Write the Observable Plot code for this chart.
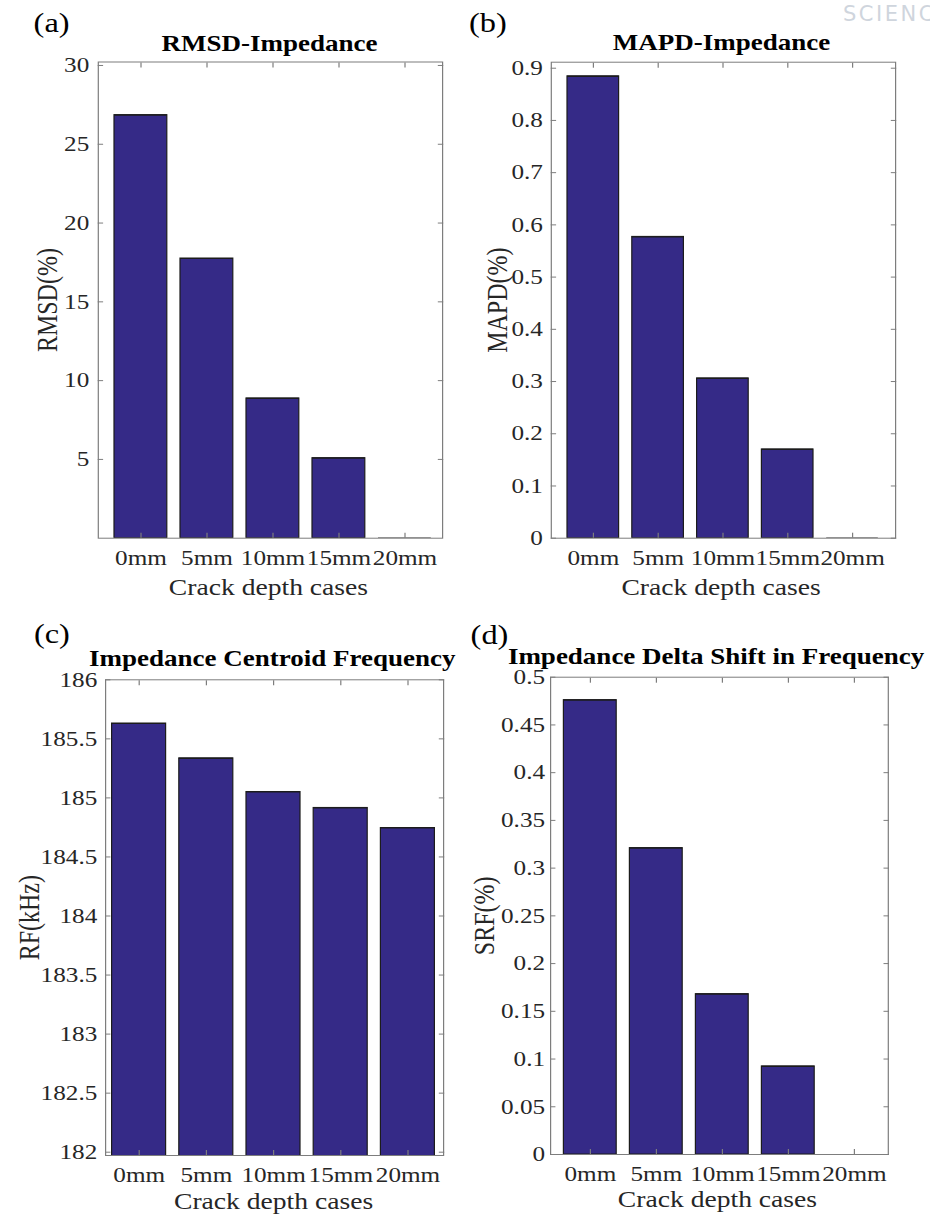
<!DOCTYPE html>
<html>
<head>
<meta charset="utf-8">
<script src="https://cdn.jsdelivr.net/npm/d3@7"></script>
<script src="https://cdn.jsdelivr.net/npm/@observablehq/plot@0.6"></script>
<style>
  body { margin: 0; background: #fff; }
  #fig { position: relative; width: 930px; height: 1218px; overflow: hidden; background: #fff; }
  #fig svg { position: absolute; transform-origin: 0 0; }
  #mark { position: absolute; left: 843px; top: 4px; font: 21px "DejaVu Sans", sans-serif; letter-spacing: 2.5px; color: #cfd5dd; line-height: 1; white-space: nowrap; }
</style>
</head>
<body>
<div id="fig"><span id="mark">SCIENCE</span></div>
<script>
// Crack depth cases and the four damage indices
const cases = ["0mm", "5mm", "10mm", "15mm", "20mm"];
const rmsd = [26.85, 17.75, 8.87, 5.08, 0];
const mapd = [0.8845, 0.577, 0.306, 0.170, 0];
const centroid = [185.63, 185.335, 185.05, 184.915, 184.745];
const srf = [0.476, 0.321, 0.168, 0.0923, 0];

// Tick values for each y axis
const rmsdTicks = [5, 10, 15, 20, 25, 30];
const mapdTicks = [0, 0.1, 0.2, 0.3, 0.4, 0.5, 0.6, 0.7, 0.8, 0.9];
const centroidTicks = [182, 182.5, 183, 183.5, 184, 184.5, 185, 185.5, 186];
const srfTicks = [0, 0.05, 0.1, 0.15, 0.2, 0.25, 0.3, 0.35, 0.4, 0.45, 0.5];

const xLabel = "Crack depth cases";

// Horizontal stretch of each panel
const S = 1.2;

const panels = [
  {tag: "(a)", title: "RMSD-Impedance", ylabel: "RMSD(%)", values: rmsd, ticks: rmsdTicks, domain: [0, 30.22],
   left: 0, top: 0, ml: 97.7, mr: 23, mt: 61.5, mb: 71.3, po: 0.186, align: 0.58, pad: 9,
   titleDx: -1, titleDy: -11.5, tagX: 33, tagY: 31, ylabelDx: -41.7, xlabelDx: -2, xlabelDy: 56.5},
  {tag: "(b)", title: "MAPD-Impedance", ylabel: "MAPD(%)", values: mapd, ticks: mapdTicks, domain: [0, 0.9115],
   left: 465, top: 0, ml: 85.7, mr: 35, mt: 61.7, mb: 71.3, po: 0.245, align: 0.5, pad: 8.4,
   titleDx: -2, titleDy: -12.4, tagX: 468.3, tagY: 31, ylabelDx: -44.7, xlabelDx: -2.4, xlabelDy: 56.3},
  {tag: "(c)", title: "Impedance Centroid Frequency", ylabel: "RF(kHz)", values: centroid, ticks: centroidTicks, domain: [181.972, 186],
   left: 0, top: 609, ml: 105, mr: 22, mt: 70.3, mb: 63, po: 0.105, align: 0.43, pad: 8.3,
   titleDx: -2.3, titleDy: -14.3, tagX: 33.3, tagY: 642, ylabelDx: -67, xlabelDx: -1, xlabelDy: 53},
  {tag: "(d)", title: "Impedance Delta Shift in Frequency", ylabel: "SRF(%)", values: srf, ticks: srfTicks, domain: [0, 0.5],
   left: 465, top: 609, ml: 85, mr: 42.3, mt: 67.7, mb: 64, po: 0.125, align: 0.64, pad: 5.5,
   titleDx: -3.4, titleDy: -13.4, tagX: 470, tagY: 643, ylabelDx: -57, xlabelDx: -2, xlabelDy: 52.7}
];

const fig = document.getElementById("fig");
const noText = () => "";

for (const p of panels) {
  const table = cases.map((c, i) => ({case: c, value: p.values[i]}));
  const chart = Plot.plot({
    width: 465 / S,
    height: 609,
    marginLeft: p.ml / S,
    marginRight: p.mr / S,
    marginTop: p.mt,
    marginBottom: p.mb,
    x: {type: "band", domain: cases, paddingInner: 0.2, paddingOuter: p.po, align: p.align, axis: null},
    y: {domain: p.domain, axis: null},
    style: {fontFamily: '"Liberation Serif", "Times New Roman", serif', fontSize: "21px", color: "#262626", background: "transparent", overflow: "visible"},
    marks: [
      Plot.frame({stroke: "#7d7d7d", strokeWidth: 1}),
      Plot.barY(table, {x: "case", y: "value", fill: "#352A87", stroke: "#1c1c1c", strokeWidth: 1, clip: true}),
      // bar tops, so that a zero-valued bar still shows as a flat line
      Plot.tickY(table, {x: "case", y: "value", stroke: "#1c1c1c", strokeWidth: 1.2, clip: true}),
      // inward ticks on all four sides
      Plot.axisX({anchor: "bottom", tickSize: 5, dy: -5, tickFormat: noText, label: null, stroke: "#7d7d7d"}),
      Plot.axisX({anchor: "top", tickSize: 5, dy: 5, tickFormat: noText, label: null, stroke: "#7d7d7d"}),
      Plot.axisY({anchor: "left", ticks: p.ticks, tickSize: 4.5, dx: 4.5, tickFormat: noText, label: null, stroke: "#7d7d7d"}),
      Plot.axisY({anchor: "right", ticks: p.ticks, tickSize: 4.5, dx: -4.5, tickFormat: noText, label: null, stroke: "#7d7d7d"}),
      // tick labels
      Plot.axisX({anchor: "bottom", tickSize: 0, tickPadding: 12, fontSize: 21, label: null, fill: "#262626"}),
      Plot.axisY({anchor: "left", ticks: p.ticks, tickSize: 0, tickPadding: p.pad / S, tickFormat: d => String(d), fontSize: 21, label: null, fill: "#262626"}),
      // titles and axis labels
      Plot.text([p.title], {frameAnchor: "top", textAnchor: "middle", lineAnchor: "bottom", dx: p.titleDx / S, dy: p.titleDy, fontSize: 22.5, fontWeight: "bold", fill: "black"}),
      Plot.text([p.tag], {frameAnchor: "top-left", textAnchor: "start", lineAnchor: "bottom", dx: (p.tagX - p.left - p.ml) / S, dy: p.tagY - p.top - p.mt, fontSize: 27, fill: "black"}),
      Plot.text([p.ylabel], {frameAnchor: "left", rotate: -90, textAnchor: "middle", lineAnchor: "bottom", dx: p.ylabelDx / S, fontSize: 24, fill: "#262626"}),
      Plot.text([xLabel], {frameAnchor: "bottom", textAnchor: "middle", lineAnchor: "bottom", dx: p.xlabelDx / S, dy: p.xlabelDy, fontSize: 23, fill: "#262626"})
    ]
  });
  chart.style.left = p.left + "px";
  chart.style.top = p.top + "px";
  chart.style.transform = `scaleX(${S})`;
  fig.appendChild(chart);
}
</script>
</body>
</html>
